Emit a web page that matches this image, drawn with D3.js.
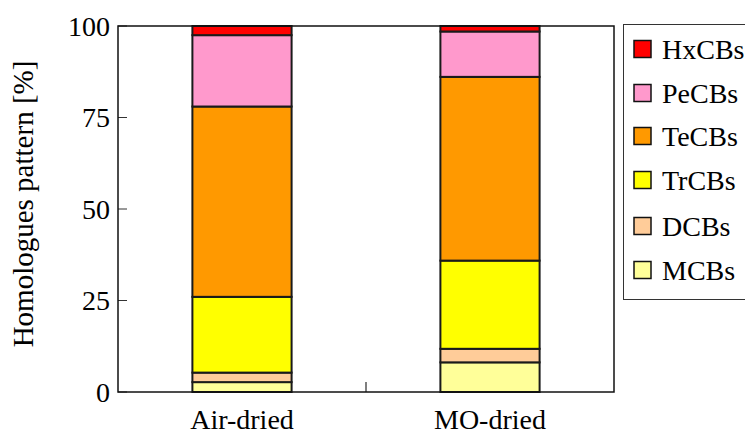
<!DOCTYPE html>
<html>
<head>
<meta charset="utf-8">
<script src="https://cdn.jsdelivr.net/npm/d3@7"></script>
<style>
  body { margin: 0; background: #fff; }
  svg text { font-family: "Liberation Serif", "Times New Roman", Times, serif; fill: #000; }
</style>
</head>
<body>
<div id="chart"></div>
<script>
// data
const samples = ["Air-dried", "MO-dried"];
const homologues = ["MCBs", "DCBs", "TrCBs", "TeCBs", "PeCBs", "HxCBs"];
const airDried = [2.7, 2.6, 20.7, 52.0, 19.5, 2.5];
const moDried = [8.1, 3.7, 24.1, 50.2, 12.4, 1.5];
const yTicks = [0, 25, 50, 75, 100];
const colors = ["#ffff99", "#ffcc99", "#ffff00", "#ff9900", "#ff99cc", "#ff0000"];

const width = 745, height = 435;
const margin = { top: 26, right: 131, bottom: 43, left: 118 };

const svg = d3.select("#chart")
    .append("svg")
    .attr("width", width)
    .attr("height", height);

const x = d3.scaleBand()
    .domain(samples)
    .range([margin.left, width - margin.right])
    .paddingInner(0.6)
    .paddingOuter(0.3);

const y = d3.scaleLinear()
    .domain([0, 100])
    .range([height - margin.bottom, margin.top]);

// stack rows
const rows = samples.map((s, i) => {
    const vals = i === 0 ? airDried : moDried;
    const row = { sample: s };
    homologues.forEach((h, j) => row[h] = vals[j]);
    return row;
});
const stacked = d3.stack().keys(homologues)(rows);

const color = d3.scaleOrdinal().domain(homologues).range(colors);

// bars
svg.append("g")
    .selectAll("g")
    .data(stacked)
    .enter()
    .append("g")
    .attr("fill", d => color(d.key))
    .selectAll("rect")
    .data(d => d)
    .enter()
    .append("rect")
    .attr("x", d => x(d.data.sample))
    .attr("width", x.bandwidth())
    .attr("y", d => y(d[1]))
    .attr("height", d => y(d[0]) - y(d[1]))
    .attr("stroke", "#1a1a1a")
    .attr("stroke-width", 2);

// y ticks (inward)
svg.append("g")
    .selectAll("line")
    .data(yTicks)
    .enter()
    .append("line")
    .attr("x1", margin.left)
    .attr("x2", margin.left + 9)
    .attr("y1", d => y(d))
    .attr("y2", d => y(d))
    .attr("stroke", "#333")
    .attr("stroke-width", 1);

svg.append("g")
    .selectAll("text")
    .data(yTicks)
    .enter()
    .append("text")
    .attr("x", margin.left - 8)
    .attr("y", d => y(d))
    .attr("dy", "0.35em")
    .attr("text-anchor", "end")
    .style("font-size", "28px")
    .text(d => d);

// middle tick between the bars
const midX = x(samples[0]) + x.bandwidth() + (x(samples[1]) - x(samples[0]) - x.bandwidth()) / 2;
svg.append("line")
    .attr("x1", midX).attr("x2", midX)
    .attr("y1", y(0)).attr("y2", y(0) - 10)
    .attr("stroke", "#555")
    .attr("stroke-width", 1.5);

// x labels
svg.append("g")
    .selectAll("text")
    .data(samples)
    .enter()
    .append("text")
    .attr("x", d => x(d) + x.bandwidth() / 2)
    .attr("y", height - 6)
    .attr("text-anchor", "middle")
    .style("font-size", "28px")
    .text(d => d);

// frame
svg.append("rect")
    .attr("x", margin.left)
    .attr("y", margin.top)
    .attr("width", width - margin.right - margin.left)
    .attr("height", height - margin.bottom - margin.top)
    .attr("fill", "none")
    .attr("stroke", "#111")
    .attr("stroke-width", 1.5);

// y label
svg.append("text")
    .attr("transform", `translate(33, ${(margin.top + height - margin.bottom) / 2 - 5}) rotate(-90)`)
    .attr("text-anchor", "middle")
    .style("font-size", "29px")
    .text("Homologues pattern [%]");

// legend
const legend = svg.append("g");
legend.append("rect")
    .attr("x", 623.5)
    .attr("y", 24.5)
    .attr("width", 140)
    .attr("height", 275)
    .attr("fill", "#fff")
    .attr("stroke", "#333")
    .attr("stroke-width", 1);

const legendOrder = homologues.slice().reverse();
const legendY = [49, 93, 136, 180, 226, 270];
const item = legend.selectAll("g.item")
    .data(legendOrder)
    .enter()
    .append("g")
    .attr("class", "item")
    .attr("transform", (d, i) => `translate(634, ${legendY[i]})`);

item.append("rect")
    .attr("x", 0)
    .attr("y", -8.5)
    .attr("width", 17)
    .attr("height", 17)
    .attr("fill", d => color(d))
    .attr("stroke", "#111")
    .attr("stroke-width", 1.5);

item.append("text")
    .attr("x", 28)
    .attr("y", 0)
    .attr("dy", "0.35em")
    .style("font-size", "28px")
    .text(d => d);
</script>
</body>
</html>
